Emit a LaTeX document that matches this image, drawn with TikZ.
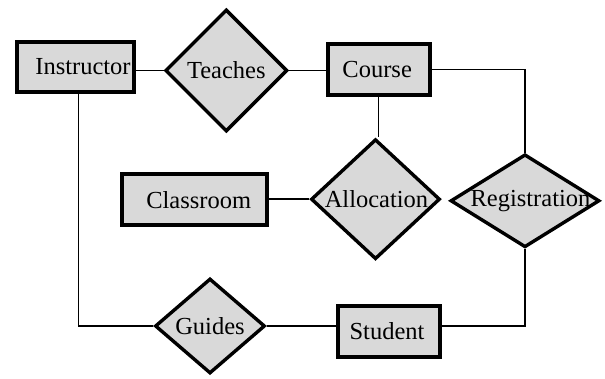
\documentclass[tikz,border=0pt]{standalone}
\usepackage{fontspec}
\setmainfont{Liberation Serif}
\usetikzlibrary{shapes.geometric}
\definecolor{boxfill}{HTML}{D9D9D9}
\tikzset{
  ent/.style={rectangle, draw=black, fill=boxfill, line width=3.8pt, inner sep=0pt,
    font=\fontsize{24.5}{26}\selectfont},
  rel/.style={diamond, draw=black, fill=boxfill, line width=3.4pt, inner sep=0pt,
    line join=miter, font=\fontsize{24.5}{26}\selectfont},
  conn/.style={draw=black, line width=1.5pt}
}
\begin{document}
\begin{tikzpicture}[x=1pt,y=-1pt]
\useasboundingbox (0,0) rectangle (605,379);
% entities
\node[ent, minimum width=117pt, minimum height=50pt] (inst) at (75.5,67) {\hspace*{15pt}Instructor};
\node[ent, minimum width=102pt, minimum height=51pt] (course) at (378.7,69.5) {Course\hspace*{3pt}};
\node[ent, minimum width=145pt, minimum height=51pt] (class) at (194.7,199.8) {\hspace*{8pt}Classroom};
\node[ent, minimum width=102pt, minimum height=51pt] (stud) at (389,331.5) {Student\hspace*{4pt}};
% relationships
\node[rel, minimum width=122pt, minimum height=122pt] (tea) at (226.3,70.5) {\makebox[0pt]{Teaches}};
\node[rel, minimum width=129pt, minimum height=120pt] (alloc) at (375.5,199.2) {\makebox[0pt]{\hspace*{2pt}Allocation}};
\node[rel, minimum width=149pt, minimum height=93pt] (reg) at (525,200.8) {\makebox[0pt]{\hspace*{11pt}Registration}};
\node[rel, minimum width=110pt, minimum height=95pt] (guides) at (210,326) {\makebox[0pt]{Guides}};
% connectors
\draw[conn] (inst.east |- tea.west) -- (tea.west);
\draw[conn] (tea.east) -- (tea.east -| course.west);
\draw[conn] (course.east) -- (course.east -| reg.north) -- (reg.north);
\draw[conn] (course.south) -- (course.south |- alloc.north);
\draw[conn] (class.east |- alloc.west) -- (alloc.west);
\draw[conn] ([xshift=3pt]inst.south) -- ([xshift=3pt]inst.south |- guides.west) -- (guides.west);
\draw[conn] (guides.east) -- (guides.east -| stud.west);
\draw[conn] (stud.east |- guides.east) -- (reg.south |- guides.east) -- (reg.south);
\end{tikzpicture}
\end{document}
